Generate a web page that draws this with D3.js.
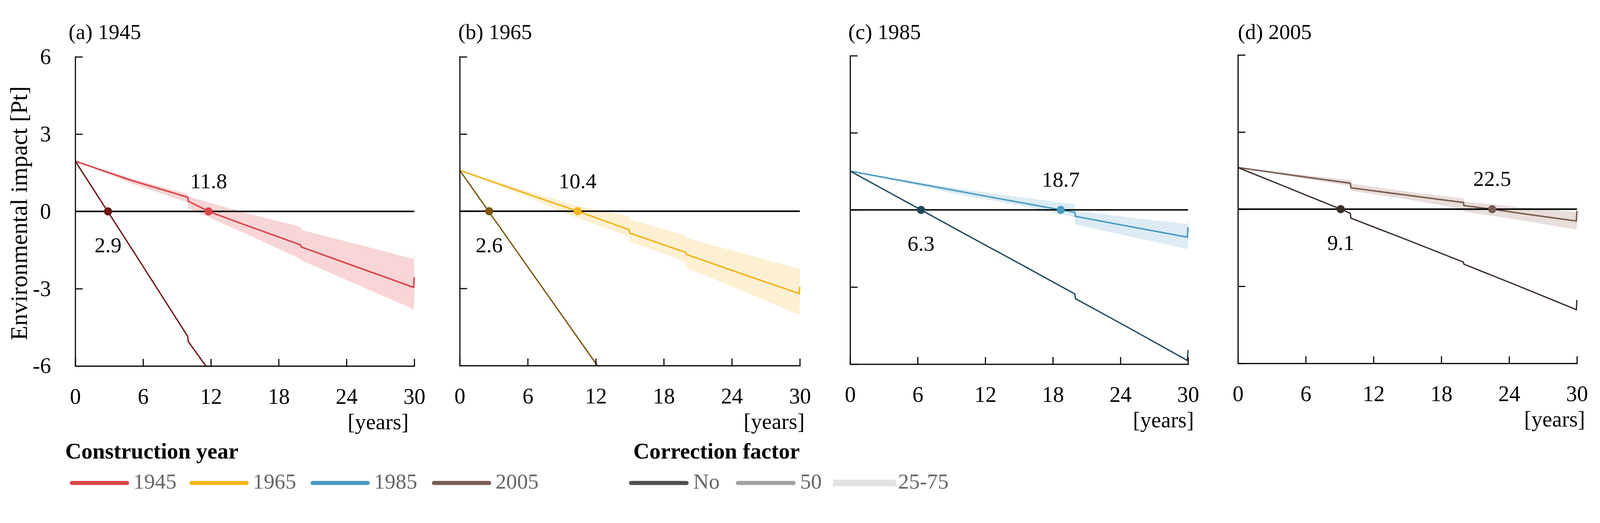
<!DOCTYPE html>
<html>
<head>
<meta charset="utf-8">
<script src="https://cdn.jsdelivr.net/npm/d3@7"></script>
<style>
  html, body { margin: 0; padding: 0; background: #fff; overflow: hidden; }
  svg { display: block; width: 100vw; height: 100vh; }
  text { font-family: "Liberation Serif", "DejaVu Serif", serif; }
</style>
</head>
<body>
<script>
// panel titles and the crossing years written on the chart
var years = ["1945", "1965", "1985", "2005"];
var panelTitles = ["(a) 1945", "(b) 1965", "(c) 1985", "(d) 2005"];
var crossNo = [2.9, 2.6, 6.3, 9.1];
var crossMedian = [11.8, 10.4, 18.7, 22.5];

var xTicks = [0, 6, 12, 18, 24, 30];
var yTicks = [6, 3, 0, -3, -6];

// no correction factor  [year, Pt]
var noCorr1945 = [[0, 1.95], [5, -1.45], [9.95, -4.85], [10, -5.05], [15, -8.1], [30, -17]];
var noCorr1965 = [[0, 1.59], [10, -4.66], [20, -10.9], [30, -17.2]];
var noCorr1985 = [[0, 1.51], [6.3, 0], [10, -0.89], [15, -2.08], [19.95, -3.27], [20, -3.45], [25, -4.65], [29.95, -5.86], [30, -5.45]];
var noCorr2005 = [[0, 1.62], [9.1, 0], [9.95, -0.16], [10, -0.35], [15, -1.2], [19.95, -2.06], [20, -2.14], [25, -3.02], [29.95, -3.91], [30, -3.53]];

// correction factor, 50th percentile  [year, Pt]
var median1945 = [[0, 1.95], [5, 1.2], [9.95, 0.55], [10, 0.4], [11.8, 0], [15, -0.52], [19.95, -1.3], [20, -1.38], [25, -2.17], [29.95, -2.95], [30, -2.55]];
var median1965 = [[0, 1.59], [5, 0.82], [10.4, 0], [14.95, -0.72], [15, -0.85], [19.95, -1.6], [20, -1.68], [25, -2.45], [29.95, -3.2], [30, -2.93]];
var median1985 = [[0, 1.51], [10, 0.7], [18.7, 0], [19.95, -0.09], [20, -0.25], [25, -0.66], [29.95, -1.06], [30, -0.67]];
var median2005 = [[0, 1.62], [5, 1.31], [9.95, 1.01], [10, 0.83], [15, 0.54], [19.95, 0.26], [20, 0.14], [22.5, 0], [25, -0.16], [29.95, -0.46], [30, -0.07]];

// correction factor, 25-75 percentile band  [year, low, high]
var band1945 = [[0, 1.95, 1.95], [5, 1.08, 1.27], [9.95, 0.35, 0.68], [10, 0.12, 0.58], [15, -0.85, -0.05], [19.95, -1.85, -0.6], [20, -1.9, -0.72], [25, -2.85, -1.28], [29.95, -3.8, -1.85], [30, -3.45, -1.5]];
var band1965 = [[0, 1.59, 1.59], [5, 0.72, 0.92], [10, -0.2, 0.25], [14.95, -0.98, -0.2], [15, -1.17, -0.32], [19.95, -1.98, -0.95], [20, -2.2, -1.04], [25, -3.1, -1.64], [29.95, -4.03, -2.24], [30, -3.71, -1.96]];
var band1985 = [[0, 1.51, 1.51], [10, 0.57, 0.8], [15, 0.18, 0.5], [19.95, -0.29, 0.22], [20, -0.57, -0.04], [25, -1.05, -0.3], [29.95, -1.52, -0.55], [30, -1.3, -0.22]];
var band2005 = [[0, 1.62, 1.62], [5, 1.25, 1.37], [9.95, 0.9, 1.13], [10, 0.72, 1.0], [15, 0.38, 0.68], [19.95, 0.0, 0.42], [20, -0.1, 0.3], [25, -0.42, 0.07], [29.95, -0.8, -0.11], [30, -0.6, 0.26]];

var noSeries = [noCorr1945, noCorr1965, noCorr1985, noCorr2005];
var medianSeries = [median1945, median1965, median1985, median2005];
var bandSeries = [band1945, band1965, band1985, band2005];

var medianColors = ["#d9444a", "#f4b41a", "#4c9bc1", "#7b5d52"];
var darkColors = ["#6e1515", "#7a560c", "#1e4759", "#3a2d29"];
var bandColors = ["#f8d5d6", "#fdf0d2", "#dcebf4", "#e8dedb"];

// layout of the four panels
var panelX = [202, 1234, 2282, 3323];
var panelW = [910, 913, 907, 910];
var panelTop = [120, 120, 117, 115];
var panelBottom = [950, 949, 945, 943];
var titleX = [184, 1230, 2277, 3323];
var yearsLabelX = [1097, 2160, 3205, 4255];

var svg = d3.select("body")
  .append("svg")
  .attr("viewBox", "0 0 4295 1339")
  .attr("preserveAspectRatio", "xMidYMid meet");

svg.append("rect")
  .attr("width", 4295)
  .attr("height", 1339)
  .attr("fill", "#fff");

for (var i = 0; i < 4; i++) {
  var w = panelW[i];
  var h = panelBottom[i] - panelTop[i];
  var x = d3.scaleLinear().domain([0, 30]).range([0, w]);
  var y = d3.scaleLinear().domain([-6, 6]).range([h, 0]);

  var g = svg.append("g")
    .attr("transform", "translate(" + panelX[i] + "," + panelTop[i] + ")");

  g.append("clipPath")
    .attr("id", "clip" + i)
    .append("rect")
    .attr("width", w + 2)
    .attr("height", h);

  var plot = g.append("g").attr("clip-path", "url(#clip" + i + ")");

  var area = d3.area()
    .x(function(d) { return x(d[0]); })
    .y0(function(d) { return y(d[1]); })
    .y1(function(d) { return y(d[2]); });

  var line = d3.line()
    .x(function(d) { return x(d[0]); })
    .y(function(d) { return y(d[1]); });

  plot.append("path")
    .attr("d", area(bandSeries[i]))
    .attr("fill", bandColors[i]);

  // zero line
  g.append("line")
    .attr("x1", x(0))
    .attr("x2", x(30))
    .attr("y1", y(0))
    .attr("y2", y(0))
    .attr("stroke", "#000")
    .attr("stroke-width", 4);

  plot.append("path")
    .attr("d", line(medianSeries[i]))
    .attr("fill", "none")
    .attr("stroke", medianColors[i])
    .attr("stroke-width", 4);

  plot.append("path")
    .attr("d", line(noSeries[i]))
    .attr("fill", "none")
    .attr("stroke", darkColors[i])
    .attr("stroke-width", 3.5);

  g.append("circle")
    .attr("cx", x(crossNo[i]))
    .attr("cy", y(0))
    .attr("r", 11)
    .attr("fill", darkColors[i]);

  g.append("circle")
    .attr("cx", x(crossMedian[i]))
    .attr("cy", y(0))
    .attr("r", 11)
    .attr("fill", medianColors[i]);

  g.append("text")
    .attr("x", x(crossMedian[i]))
    .attr("y", y(0) - 62)
    .attr("text-anchor", "middle")
    .attr("font-size", "58px")
    .text(d3.format(".1f")(crossMedian[i]));

  g.append("text")
    .attr("x", x(crossNo[i]))
    .attr("y", y(0) + 110)
    .attr("text-anchor", "middle")
    .attr("font-size", "58px")
    .text(d3.format(".1f")(crossNo[i]));

  // axes
  var yAxis = g.append("g")
    .call(d3.axisLeft(y)
      .tickValues(yTicks)
      .tickSize(-20)
      .tickSizeOuter(0)
      .tickPadding(65)
      .tickFormat(i === 0 ? function(d) { return String(d); } : function() { return ""; }));

  var xAxis = g.append("g")
    .attr("transform", "translate(0," + h + ")")
    .call(d3.axisBottom(x)
      .tickValues(xTicks)
      .tickSize(-19)
      .tickSizeOuter(0)
      .tickPadding(60)
      .tickFormat(function(d) { return String(d); }));

  [yAxis, xAxis].forEach(function(ax) {
    ax.attr("font-family", null).attr("font-size", null);
    ax.select(".domain").attr("stroke", "#000").attr("stroke-width", 3).attr("stroke-linecap", "square");
    ax.selectAll(".tick line").attr("stroke", "#000").attr("stroke-width", 3);
    ax.selectAll(".tick text").attr("fill", "#000").attr("font-size", "59px");
  });

  svg.append("text")
    .attr("x", titleX[i])
    .attr("y", 72)
    .attr("font-size", "58px")
    .text(panelTitles[i]);

  svg.append("text")
    .attr("x", yearsLabelX[i])
    .attr("y", panelBottom[i] + 170)
    .attr("text-anchor", "end")
    .attr("font-size", "59px")
    .text("[years]");
}

svg.append("text")
  .attr("transform", "translate(72,540) rotate(-90)")
  .attr("text-anchor", "middle")
  .attr("font-size", "64px")
  .text("Environmental impact [Pt]");

// legend: construction year
svg.append("text")
  .attr("x", 175)
  .attr("y", 1198)
  .attr("font-size", "60px")
  .attr("font-weight", "bold")
  .text("Construction year");

var legendX = [187, 508, 833, 1159];
years.forEach(function(yr, k) {
  svg.append("line")
    .attr("x1", legendX[k] + 6)
    .attr("x2", legendX[k] + 154)
    .attr("y1", 1264)
    .attr("y2", 1264)
    .attr("stroke", medianColors[k])
    .attr("stroke-width", 11)
    .attr("stroke-linecap", "round");
  svg.append("text")
    .attr("x", legendX[k] + 171)
    .attr("y", 1279)
    .attr("font-size", "58px")
    .attr("fill", "#666")
    .text(yr);
});

// legend: correction factor
var corrLabels = ["No", "50", "25-75"];
var corrColors = ["#505050", "#a0a0a0", "#e3e3e3"];
var corrX = [1688, 1975, 2236];

svg.append("text")
  .attr("x", 1700)
  .attr("y", 1198)
  .attr("font-size", "60px")
  .attr("font-weight", "bold")
  .text("Correction factor");

corrLabels.forEach(function(lbl, k) {
  if (k < 2) {
    svg.append("line")
      .attr("x1", corrX[k] + 6)
      .attr("x2", corrX[k] + 155)
      .attr("y1", 1264)
      .attr("y2", 1264)
      .attr("stroke", corrColors[k])
      .attr("stroke-width", 11)
      .attr("stroke-linecap", "round");
  } else {
    svg.append("rect")
      .attr("x", corrX[k])
      .attr("y", 1255)
      .attr("width", 169)
      .attr("height", 18)
      .attr("fill", corrColors[k]);
  }
  svg.append("text")
    .attr("x", k < 2 ? corrX[k] + 173 : corrX[k] + 175)
    .attr("y", 1279)
    .attr("font-size", "58px")
    .attr("fill", "#666")
    .text(lbl);
});
</script>
</body>
</html>
